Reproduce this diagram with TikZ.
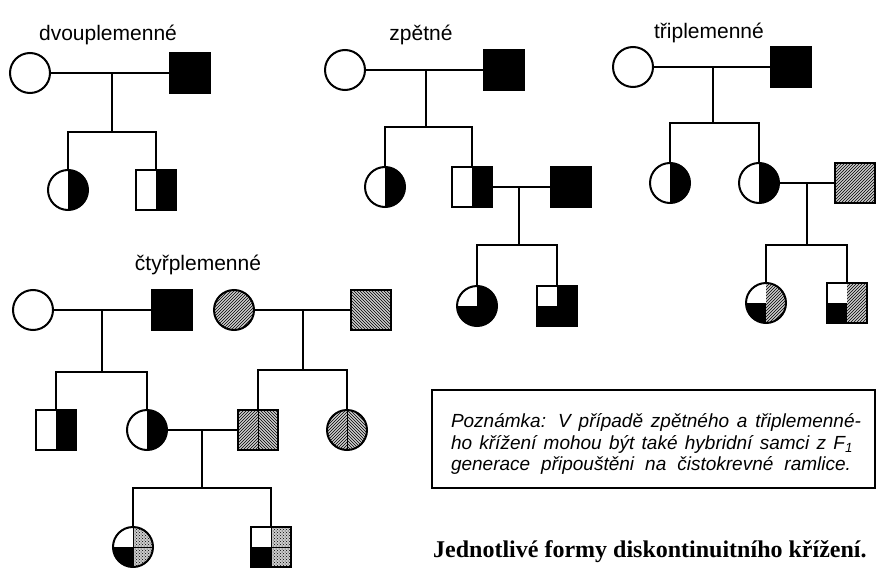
\documentclass[tikz,border=0pt]{standalone}
\usepackage{fontspec}
\setmainfont{Liberation Sans}
\newfontfamily\capfont{Liberation Serif}
\usetikzlibrary{patterns}

\begin{document}
\begin{tikzpicture}[x=1pt, y=-1pt,
    fem/.style={circle,draw,line width=2pt,minimum size=40pt,inner sep=0pt},
    mal/.style={rectangle,draw,line width=2pt,minimum size=40pt,inner sep=0pt},
    link/.style={line width=1.4pt},
    lbl/.style={font=\fontsize{21}{25}\selectfont},
    blk/.style={fill=black},
    half/.style={path picture={\fill[black] (path picture bounding box.north) rectangle (path picture bounding box.south east);}},
    qtl/.style={fill=black, path picture={\fill[white] (path picture bounding box.north west) rectangle (path picture bounding box.center);}},
    hne/.style={preaction={fill=gray!40}, pattern=north east lines},
    hnw/.style={preaction={fill=gray!40}, pattern=north west lines},
    split/.style={preaction={fill=gray!40}, pattern=north east lines,
        path picture={\fill[gray!40] (path picture bounding box.north) rectangle (path picture bounding box.south east);
        \fill[pattern=north west lines] (path picture bounding box.north) rectangle (path picture bounding box.south east);
        \draw[line width=1pt] (path picture bounding box.north) -- (path picture bounding box.south);}},
    trio/.style={path picture={\fill[black] (path picture bounding box.west) rectangle (path picture bounding box.south);
        \fill[gray!40] (path picture bounding box.north) rectangle (path picture bounding box.south east);
        \fill[pattern=north east lines] (path picture bounding box.north) rectangle (path picture bounding box.south east);}},
    quad/.style={path picture={\fill[black] (path picture bounding box.west) rectangle (path picture bounding box.south);
        \fill[gray!40] (path picture bounding box.north) rectangle (path picture bounding box.south east);
        \fill[pattern=crosshatch dots] (path picture bounding box.north) rectangle (path picture bounding box.south east);
        \draw[line width=1pt] (path picture bounding box.north) -- (path picture bounding box.south)
            (path picture bounding box.west) -- (path picture bounding box.east);}},
]

    \fill[white] (0,0) rectangle (877,567);
    \useasboundingbox (0,0) rectangle (877,567);

    % dvouplemenne
    \node[lbl] (dT) at (108,35) {dvouplemenné};
    \node[fem] (dM) at (30,73) {};
    \node[mal, blk] (dF) at (190,73) {};
    \node[fem, half] (dK1) at (68,190) {};
    \node[mal, half] (dK2) at (156,190) {};
    \coordinate (dJ) at (112,73);
    \coordinate (dS) at (112,132);

    \draw[link] (dM) -- (dF);
    \draw[link] (dJ) -- (dS);
    \draw[link] (dK1.north) |- (dS) -| (dK2.north);

    % zpetne
    \node[lbl] (zT) at (421,35) {zpětné};
    \node[fem] (zM) at (345,70) {};
    \node[mal, blk] (zF) at (504,70) {};
    \node[fem, half] (zK1) at (385,187) {};
    \node[mal, half] (zK2) at (472,187) {};
    \node[mal, blk] (zF2) at (571,187) {};
    \node[fem, qtl] (zG1) at (477,306) {};
    \node[mal, qtl] (zG2) at (557,306) {};
    \coordinate (zJ) at (426,70);
    \coordinate (zS) at (426,127);
    \coordinate (zJ2) at (519,187);
    \coordinate (zS2) at (519,245);

    \draw[link] (zM) -- (zF);
    \draw[link] (zJ) -- (zS);
    \draw[link] (zK1.north) |- (zS) -| (zK2.north);
    \draw[link] (zK2) -- (zF2);
    \draw[link] (zJ2) -- (zS2);
    \draw[link] (zG1.north) |- (zS2) -| (zG2.north);

    % triplemenne
    \node[lbl] (tT) at (709,33) {třiplemenné};
    \node[fem] (tM) at (633,67) {};
    \node[mal, blk] (tF) at (791,67) {};
    \node[fem, half] (tK1) at (670,183) {};
    \node[fem, half] (tK2) at (759,183) {};
    \node[mal, hne] (tF2) at (855,183) {};
    \node[fem, trio] (tG1) at (766,303) {};
    \node[mal, trio] (tG2) at (847,303) {};
    \coordinate (tJ) at (713,67);
    \coordinate (tS) at (713,123);
    \coordinate (tJ2) at (807,183);
    \coordinate (tS2) at (807,245);

    \draw[link] (tM) -- (tF);
    \draw[link] (tJ) -- (tS);
    \draw[link] (tK1.north) |- (tS) -| (tK2.north);
    \draw[link] (tK2) -- (tF2);
    \draw[link] (tJ2) -- (tS2);
    \draw[link] (tG1.north) |- (tS2) -| (tG2.north);

    % ctyrplemenne
    \node[lbl] (cT) at (198,265) {čtyřplemenné};
    \node[fem] (cM) at (33,310) {};
    \node[mal, blk] (cF) at (172,310) {};
    \node[fem, hne] (cM2) at (234,310) {};
    \node[mal, hnw] (cF2) at (371,310) {};
    \node[mal, half] (cK1) at (56,430) {};
    \node[fem, half] (cK2) at (147,430) {};
    \node[mal, split] (cK3) at (258,430) {};
    \node[fem, split] (cK4) at (347,430) {};
    \node[fem, quad] (cG1) at (133,547) {};
    \node[mal, quad] (cG2) at (271,547) {};
    \coordinate (cJ) at (102,310);
    \coordinate (cS) at (102,372);
    \coordinate (cJ2) at (303,310);
    \coordinate (cS2) at (303,370);
    \coordinate (cJ3) at (202,430);
    \coordinate (cS3) at (202,488);

    \draw[link] (cM) -- (cF);
    \draw[link] (cJ) -- (cS);
    \draw[link] (cK1.north) |- (cS) -| (cK2.north);
    \draw[link] (cM2) -- (cF2);
    \draw[link] (cJ2) -- (cS2);
    \draw[link] (cK3.north) |- (cS2) -| (cK4.north);
    \draw[link] (cK2) -- (cK3);
    \draw[link] (cJ3) -- (cS3);
    \draw[link] (cG1.north) |- (cS3) -| (cG2.north);

    % note and caption
    \node[draw, line width=1.5pt, minimum width=443pt, minimum height=98pt] (note) at (653.5,439) {};
    \node[align=left, inner sep=0pt, font=\fontsize{19}{21.5}\selectfont\itshape] (noteT) at (656,444) {%
        \makebox[410pt][s]{Poznámka: V případě zpětného a třiplemenné-}\\
        \makebox[402pt][s]{ho křížení mohou být také hybridní samci z F\textsubscript{1}}\\
        \makebox[400pt][s]{generace připouštěni na čistokrevné ramlice.}};
    \node[anchor=base west, inner sep=0pt, font=\capfont\bfseries\fontsize{24}{28}\selectfont] (cap) at (433,557)
        {Jednotlivé formy diskontinuitního křížení.};

\end{tikzpicture}
\end{document}
